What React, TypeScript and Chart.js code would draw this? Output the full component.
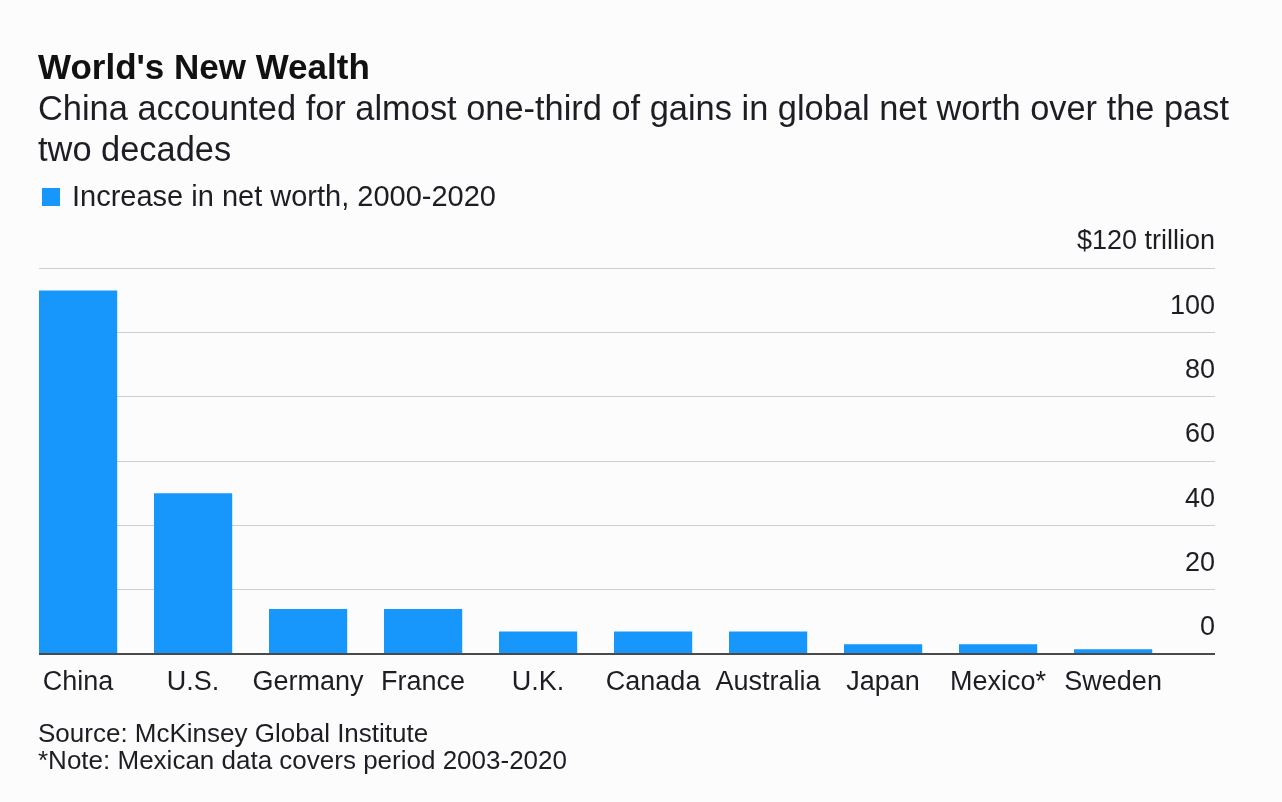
import React, { useEffect, useRef } from 'react';
import { Chart, registerables } from 'chart.js';

Chart.register(...registerables);

const titleText = "World's New Wealth";
const subtitleLines = [
  'China accounted for almost one-third of gains in global net worth over the past',
  'two decades',
];
const legendLabel = 'Increase in net worth, 2000-2020';
const countries = ['China', 'U.S.', 'Germany', 'France', 'U.K.', 'Canada', 'Australia', 'Japan', 'Mexico*', 'Sweden'];
const increase = [113, 50, 14, 14, 7, 7, 7, 3, 3, 1.5];
const yMin = 0;
const yMax = 120;
const yStep = 20;
const yTopLabel = '$120 trillion';
const footLines = ['Source: McKinsey Global Institute', '*Note: Mexican data covers period 2003-2020'];

const FONT = '"Liberation Sans", Arial, Helvetica, sans-serif';
const BAR = '#1797fb';
const TEXT = '#1d1d24';

export default function App() {
  const ref = useRef<HTMLCanvasElement | null>(null);

  useEffect(() => {
    if (!ref.current) return;
    const chart = new Chart(ref.current, {
      type: 'bar',
      data: {
        datasets: [
          {
            label: legendLabel,
            data: increase.map((v, i) => ({ x: i, y: v })),
            backgroundColor: BAR,
            borderWidth: 0,
            barPercentage: 0.68,
            categoryPercentage: 1,
          },
        ],
      },
      options: {
        animation: false,
        responsive: false,
        maintainAspectRatio: false,
        devicePixelRatio: 1,
        layout: { padding: { left: 39, right: 0, top: 268, bottom: 0 } },
        plugins: {
          legend: { display: false },
          tooltip: { enabled: false },
          title: { display: false },
        },
        scales: {
          x: {
            type: 'linear',
            min: -0.34,
            max: 9.886,
            offset: false,
            grid: { display: false, offset: false },
            border: { display: false },
            afterBuildTicks: (scale: any) => {
              scale.ticks = countries.map((_, i) => ({ value: i }));
            },
            afterFit: (scale: any) => {
              scale.height = 802 - 654;
            },
            ticks: {
              autoSkip: false,
              maxRotation: 0,
              minRotation: 0,
              padding: 4,
              color: TEXT,
              font: { family: FONT, size: 27 },
              callback: (v: any) => {
                const i = Math.round(Number(v));
                return Math.abs(Number(v) - i) < 1e-6 ? countries[i] ?? '' : '';
              },
            },
          },
          y: {
            position: 'right',
            min: yMin,
            max: yMax,
            grid: {
              drawTicks: false,
              color: (ctx: any) => (ctx.tick && ctx.tick.value === 0 ? '#4a4a4a' : '#cfcfcf'),
              lineWidth: (ctx: any) => (ctx.tick && ctx.tick.value === 0 ? 2 : 1),
            },
            border: { display: false },
            afterFit: (scale: any) => {
              scale.width = 1282 - 1215;
            },
            ticks: {
              stepSize: yStep,
              mirror: true,
              padding: 0,
              labelOffset: -26,
              color: TEXT,
              font: { family: FONT, size: 27 },
              callback: (v: any) => (Number(v) === yMax ? yTopLabel : String(v)),
            },
          },
        },
      },
    });
    return () => chart.destroy();
  }, []);

  const abs = (top: number, left: number, extra: React.CSSProperties = {}): React.CSSProperties => ({
    position: 'absolute',
    top,
    left,
    whiteSpace: 'nowrap',
    fontFamily: FONT,
    color: TEXT,
    margin: 0,
    ...extra,
  });

  return (
    <div
      style={{
        position: 'fixed',
        top: 0,
        left: 0,
        width: 1282,
        height: 802,
        background: '#fcfcfc',
        overflow: 'hidden',
      }}
    >
      <canvas ref={ref} width={1282} height={802} style={{ position: 'absolute', top: 0, left: 0, width: 1282, height: 802 }} />
      <div style={abs(49, 38, { fontSize: 35, lineHeight: '35px', fontWeight: 700, color: '#111' })}>{titleText}</div>
      <div style={abs(88, 38, { fontSize: 34.4, lineHeight: '41px' })}>
        {subtitleLines.map((l, i) => (
          <div key={i}>{l}</div>
        ))}
      </div>
      <div style={abs(182, 42, { fontSize: 29, lineHeight: '29px', display: 'flex', alignItems: 'center' })}>
        <span style={{ display: 'inline-block', width: 18, height: 18, background: BAR, marginRight: 12 }} />
        <span>{legendLabel}</span>
      </div>
      <div style={abs(720, 38, { fontSize: 26, lineHeight: '27px' })}>
        {footLines.map((l, i) => (
          <div key={i}>{l}</div>
        ))}
      </div>
    </div>
  );
}
